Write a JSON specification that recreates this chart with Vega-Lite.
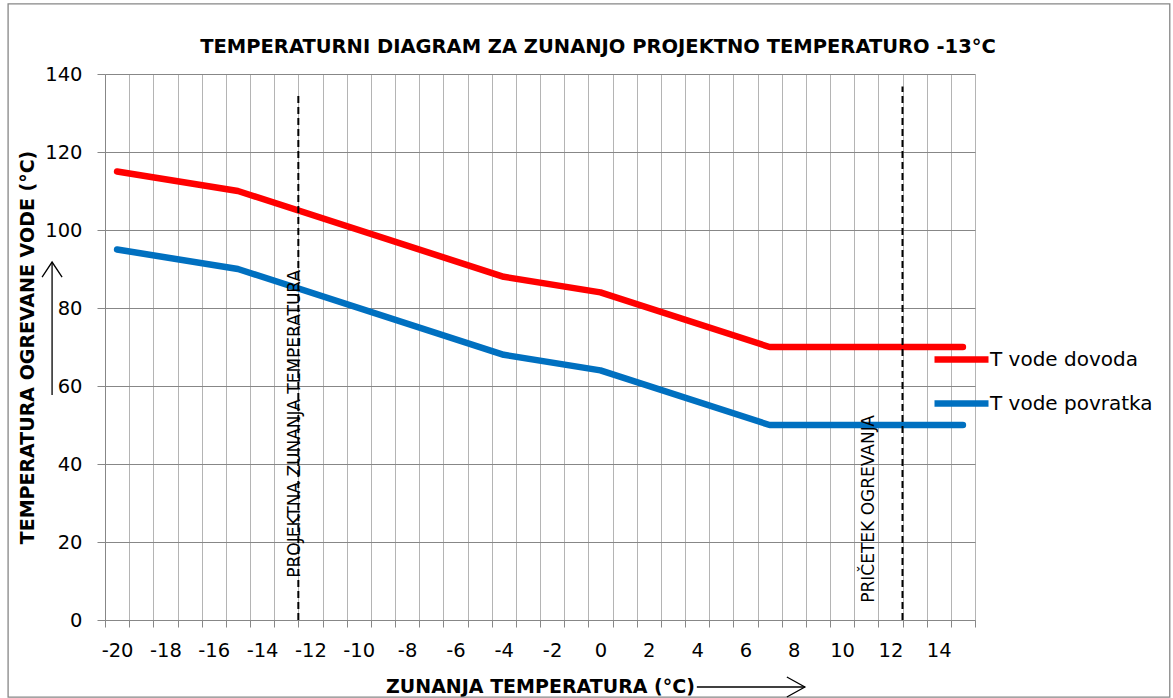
{
  "$schema": "https://vega.github.io/schema/vega-lite/v6.json",
  "width": 870,
  "height": 546,
  "autosize": {"type": "none"},
  "padding": {"left": 105, "top": 74, "right": 198, "bottom": 78},
  "background": "white",
  "config": {"font": "DejaVu Sans", "view": {"stroke": null}},
  "datasets": {
    "series": [
      {"temp": -20, "value": 115, "serie": "T vode dovoda"},
      {"temp": -15, "value": 110, "serie": "T vode dovoda"},
      {"temp": -4, "value": 88, "serie": "T vode dovoda"},
      {"temp": 0, "value": 84, "serie": "T vode dovoda"},
      {"temp": 7, "value": 70, "serie": "T vode dovoda"},
      {"temp": 15, "value": 70, "serie": "T vode dovoda"},
      {"temp": -20, "value": 95, "serie": "T vode povratka"},
      {"temp": -15, "value": 90, "serie": "T vode povratka"},
      {"temp": -4, "value": 68, "serie": "T vode povratka"},
      {"temp": 0, "value": 64, "serie": "T vode povratka"},
      {"temp": 7, "value": 50, "serie": "T vode povratka"},
      {"temp": 15, "value": 50, "serie": "T vode povratka"}
    ],
    "markers": [
      {"temp": -12.5, "low": 0, "high": 134.6},
      {"temp": 12.5, "low": 0, "high": 136.8}
    ],
    "notes": [
      {"temp": -12.45, "value": 50.3, "label": "PROJEKTNA ZUNANJA TEMPERATURA"},
      {"temp": 11.3, "value": 28.5, "label": "PRIČETEK OGREVANJA"}
    ]
  },
  "resolve": {"axis": {"x": "independent"}},
  "layer": [
    {
      "data": {"values": [{}]},
      "mark": {"type": "rect", "fillOpacity": 0, "stroke": "#868686", "strokeWidth": 1.3},
      "encoding": {
        "x": {"datum": -24.51, "axis": null},
        "x2": {"datum": 23.56},
        "y": {"datum": 158.0},
        "y2": {"datum": -19.8}
      }
    },
    {
      "data": {"values": [{"title": "TEMPERATURNI DIAGRAM ZA ZUNANJO PROJEKTNO TEMPERATURO -13°C"}]},
      "mark": {"type": "text", "align": "center", "baseline": "alphabetic", "font": "DejaVu Sans", "fontWeight": "bold", "fontSize": 19.5, "color": "black"},
      "encoding": {
        "x": {"datum": -0.1, "axis": null},
        "y": {"datum": 145.4},
        "text": {"field": "title"}
      }
    },
    {
      "data": {"name": "series"},
      "mark": {"type": "line", "strokeWidth": 6.5, "strokeCap": "round", "strokeJoin": "round"},
      "encoding": {
        "x": {
          "field": "temp",
          "type": "quantitative",
          "scale": {"domain": [-20.5, 15.5], "nice": false, "zero": false},
          "axis": {
            "orient": "bottom",
            "values": [-20.5, -19.5, -18.5, -17.5, -16.5, -15.5, -14.5, -13.5, -12.5, -11.5, -10.5, -9.5, -8.5, -7.5, -6.5, -5.5, -4.5, -3.5, -2.5, -1.5, -0.5, 0.5, 1.5, 2.5, 3.5, 4.5, 5.5, 6.5, 7.5, 8.5, 9.5, 10.5, 11.5, 12.5, 13.5, 14.5, 15.5],
            "labels": false,
            "grid": true,
            "gridColor": "#b4b4b4",
            "gridWidth": 1,
            "tickColor": "#878787",
            "tickSize": 7,
            "domainColor": "#878787",
            "title": "ZUNANJA TEMPERATURA (°C)",
            "titleFont": "DejaVu Sans",
            "titleFontWeight": "bold",
            "titleFontSize": 19,
            "titleColor": "black",
            "titleX": 435,
            "titleY": 72,
            "titleAlign": "center",
            "titleBaseline": "alphabetic"
          }
        },
        "y": {
          "field": "value",
          "type": "quantitative",
          "scale": {"domain": [0, 140], "nice": false},
          "axis": {
            "values": [0, 20, 40, 60, 80, 100, 120, 140],
            "labelFont": "DejaVu Sans",
            "labelFontSize": 19.5,
            "labelColor": "black",
            "labelPadding": 15,
            "tickSize": 8,
            "tickColor": "#878787",
            "domainColor": "#878787",
            "grid": true,
            "gridColor": "#878787",
            "gridWidth": 1,
            "title": "TEMPERATURA OGREVANE VODE (°C)",
            "titleFont": "DejaVu Sans",
            "titleFontWeight": "bold",
            "titleFontSize": 19,
            "titleColor": "black",
            "titleAngle": 270,
            "titleX": -72,
            "titleY": 273,
            "titleAlign": "center",
            "titleBaseline": "alphabetic"
          }
        },
        "color": {
          "field": "serie",
          "type": "nominal",
          "scale": {"domain": ["T vode dovoda", "T vode povratka"], "range": ["#FF0000", "#0070C0"]},
          "legend": {
            "title": null,
            "orient": "none",
            "legendX": 826,
            "legendY": 255,
            "symbolType": "stroke",
            "symbolSize": 2916,
            "symbolStrokeWidth": 6.5,
            "labelFont": "DejaVu Sans",
            "labelFontSize": 20,
            "labelColor": "black",
            "labelOffset": -2,
            "labelLimit": 400,
            "rowPadding": -2
          }
        }
      }
    },
    {
      "data": {"name": "markers"},
      "mark": {"type": "rule", "color": "black", "strokeWidth": 2, "strokeDash": [7, 4]},
      "encoding": {
        "x": {
          "field": "temp",
          "type": "quantitative",
          "axis": {
            "orient": "bottom",
            "values": [-20, -18, -16, -14, -12, -10, -8, -6, -4, -2, 0, 2, 4, 6, 8, 10, 12, 14],
            "labelExpr": "toString(datum.value)",
            "labelOverlap": false,
            "labelBound": false,
            "labelFlush": false,
            "labelFont": "DejaVu Sans",
            "labelFontSize": 19.5,
            "labelColor": "black",
            "labelPadding": 21,
            "grid": false,
            "ticks": false,
            "domain": false,
            "title": null
          }
        },
        "y": {"field": "low", "type": "quantitative"},
        "y2": {"field": "high"}
      }
    },
    {
      "data": {"name": "notes"},
      "mark": {"type": "text", "angle": 270, "align": "center", "baseline": "alphabetic", "font": "DejaVu Sans", "fontSize": 17, "color": "black"},
      "encoding": {
        "x": {"field": "temp", "type": "quantitative", "axis": null},
        "y": {"field": "value", "type": "quantitative"},
        "text": {"field": "label"}
      }
    },
    {
      "data": {"values": [{}]},
      "mark": {"type": "rule", "color": "black", "strokeWidth": 1.3},
      "encoding": {
        "x": {"datum": 3.99, "axis": null},
        "x2": {"datum": 8.46},
        "y": {"datum": -17.18}
      }
    },
    {
      "data": {"values": [{}]},
      "mark": {"type": "point", "shape": "M-1.8,-1L0,0L-1.8,1", "size": 400, "filled": false, "color": "black", "strokeWidth": 1.3, "opacity": 1},
      "encoding": {
        "x": {"datum": 8.46, "axis": null},
        "y": {"datum": -17.18}
      }
    },
    {
      "data": {"values": [{}]},
      "mark": {"type": "rule", "color": "black", "strokeWidth": 1.3},
      "encoding": {
        "x": {"datum": -22.69, "axis": null},
        "y": {"datum": 57.69},
        "y2": {"datum": 91.79}
      }
    },
    {
      "data": {"values": [{}]},
      "mark": {"type": "point", "shape": "M-1,1.5L0,0L1,1.5", "size": 400, "filled": false, "color": "black", "strokeWidth": 1.3, "opacity": 1},
      "encoding": {
        "x": {"datum": -22.69, "axis": null},
        "y": {"datum": 91.79}
      }
    }
  ]
}
